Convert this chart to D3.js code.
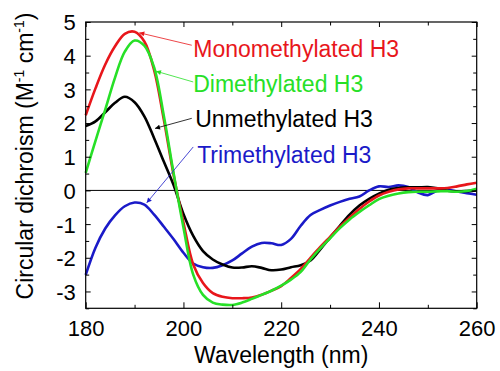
<!DOCTYPE html>
<html><head><meta charset="utf-8">
<script src="https://cdn.jsdelivr.net/npm/d3@7"></script>
<style>
html,body{margin:0;padding:0;background:#fff;}
svg{display:block;font-family:"Liberation Sans",Arial,sans-serif;}
</style></head>
<body><svg id="c" width="500" height="371"></svg>
<script>
const wavelength = [180,182,184,186,188,190,192,194,196,198,200,202,204,206,208,210,212,214,216,218,220,222,224,226,228,230,232,234,236,238,240,242,244,246,248,250,252,254,256,258,260];
const monomethylated = [2.23,3.03,3.74,4.28,4.65,4.71,4.42,3.57,2.09,0.45,-0.95,-2.2,-2.75,-3.05,-3.16,-3.2,-3.2,-3.18,-3.1,-2.98,-2.84,-2.6,-2.33,-2.0,-1.68,-1.38,-1.08,-0.8,-0.55,-0.33,-0.15,-0.04,0.03,0.06,0.06,0.06,0.06,0.07,0.12,0.18,0.23];
const dimethylated = [0.52,1.47,2.4,3.35,4.12,4.45,4.3,3.65,2.2,0.5,-1.1,-2.5,-3.1,-3.33,-3.39,-3.4,-3.33,-3.22,-3.1,-2.98,-2.83,-2.65,-2.42,-2.05,-1.72,-1.42,-1.12,-0.86,-0.64,-0.44,-0.26,-0.16,-0.09,-0.05,-0.04,-0.04,-0.03,-0.02,-0.04,-0.02,0.05];
const unmethylated = [1.91,2.05,2.32,2.6,2.78,2.62,2.2,1.55,0.85,0.15,-0.7,-1.35,-1.8,-2.05,-2.2,-2.29,-2.29,-2.25,-2.3,-2.37,-2.35,-2.28,-2.22,-2.08,-1.75,-1.4,-1.05,-0.72,-0.45,-0.25,-0.1,0.02,0.07,0.09,0.09,0.1,0.06,-0.01,-0.03,-0.02,0.0];
const trimethylated = [-2.51,-1.7,-1.13,-0.74,-0.47,-0.36,-0.42,-0.72,-1.08,-1.45,-1.85,-2.17,-2.28,-2.3,-2.22,-2.08,-1.87,-1.67,-1.56,-1.57,-1.62,-1.44,-1.05,-0.73,-0.58,-0.45,-0.34,-0.25,-0.18,0.0,0.12,0.1,0.15,0.1,-0.06,-0.14,0.0,0.02,-0.03,-0.08,-0.13];
const seriesNames = ["Monomethylated H3","Dimethylated H3","Unmethylated H3","Trimethylated H3"];
const seriesValues = [monomethylated, dimethylated, unmethylated, trimethylated];
const seriesColors = ["#e8161b","#27e027","#000000","#1a1ac8"];
const xTicks = [180,200,220,240,260];
const yTicks = [-3,-2,-1,0,1,2,3,4,5];
// annotation: label anchor (wavelength, value) and arrow start/tip in data units
const labelPos = [[202.0,3.95],[202.0,2.92],[202.4,1.88],[202.8,0.81]];
const arrowFrom = [[201.7,4.31],[202.0,3.22],[201.7,2.14],[202.0,1.29]];
const arrowTip = [[190.97,4.68],[194.38,3.54],[194.18,1.84],[192.48,-0.37]];

const svg = d3.select("#c");
const x = d3.scaleLinear().domain([180,260]).range([85.7,476.7]);
const y = d3.scaleLinear().domain([-3.5,5]).range([308.3,22]);
const L=x.range()[0], R=x.range()[1], T=y.range()[1], B=y.range()[0];

// zero line
svg.append("line").attr("x1",L).attr("x2",R).attr("y1",y(0)).attr("y2",y(0)).attr("stroke","#000").attr("stroke-width",1);

// curves
const line = d3.line().x((d,i)=>x(wavelength[i])).y(d=>y(d)).curve(d3.curveCatmullRom.alpha(0.5));
const drawOrder=[3,2,0,1];
drawOrder.forEach(k=>{
  svg.append("path").attr("d",line(seriesValues[k])).attr("fill","none")
    .attr("stroke",seriesColors[k]).attr("stroke-width",2.6).attr("stroke-linejoin","round");
});

// axes (ticks inward)
const fs = 22;
const gBottom = svg.append("g").attr("transform",`translate(0,${B})`)
  .call(d3.axisBottom(x).tickValues(d3.range(180,261,10)).tickSize(-6).tickFormat(d=>xTicks.includes(d)?d:"").tickPadding(12));
const gTop = svg.append("g").attr("transform",`translate(0,${T})`)
  .call(d3.axisTop(x).tickValues(d3.range(180,261,10)).tickSize(-5).tickFormat(""));
const gLeft = svg.append("g").attr("transform",`translate(${L},0)`)
  .call(d3.axisLeft(y).tickValues(d3.range(-3.5,5.01,0.5)).tickSize(-5).tickFormat(d=>yTicks.includes(d)?String(d):"").tickPadding(10));
const gRight = svg.append("g").attr("transform",`translate(${R},0)`)
  .call(d3.axisRight(y).tickValues(d3.range(-3.5,5.01,0.5)).tickSize(-5).tickFormat(""));
[gBottom,gTop,gLeft,gRight].forEach(g=>{
  g.select(".domain").remove();
  g.selectAll("line").attr("stroke","#000").attr("stroke-width",1);
  g.selectAll("text").attr("font-size",fs).attr("font-family","Liberation Sans, Arial, sans-serif").attr("fill","#000");
});
// minor ticks shorter
gBottom.selectAll(".tick").filter(d=>!xTicks.includes(d)).select("line").attr("y2",-3.5);
gTop.selectAll(".tick").filter(d=>!xTicks.includes(d)).select("line").attr("y2",3.5);
gLeft.selectAll(".tick").filter(d=>!yTicks.includes(d)).select("line").attr("x2",3.5);
gRight.selectAll(".tick").filter(d=>!yTicks.includes(d)).select("line").attr("x2",-3.5);
gLeft.selectAll("text").attr("dy","0.36em");
gBottom.selectAll("text").attr("dy","0.71em");

// frame
svg.append("rect").attr("x",L).attr("y",T).attr("width",R-L).attr("height",B-T)
  .attr("fill","none").attr("stroke","#000").attr("stroke-width",1.2);

// axis titles
svg.append("text").attr("x",(L+R)/2).attr("y",363).attr("text-anchor","middle")
  .attr("font-size",23).text("Wavelength (nm)");
const yl = svg.append("text").attr("transform","translate(33,156) rotate(-90)").attr("text-anchor","middle").attr("font-size",23);
yl.append("tspan").text("Circular dichroism (M");
yl.append("tspan").attr("font-size",14).attr("dy",-9).text("-1");
yl.append("tspan").attr("dy",9).text(" cm");
yl.append("tspan").attr("font-size",14).attr("dy",-9).text("-1");
yl.append("tspan").attr("dy",9).text(")");

// annotations
const defs = svg.append("defs");
seriesColors.forEach((c,k)=>{
  defs.append("marker").attr("id","ah"+k).attr("viewBox","0 0 10 10").attr("refX",10).attr("refY",5)
    .attr("markerWidth",7).attr("markerHeight",5).attr("markerUnits","userSpaceOnUse").attr("orient","auto")
    .append("path").attr("d","M0,0L10,5L0,10Z").attr("fill",c);
});
seriesNames.forEach((n,k)=>{
  svg.append("line").attr("x1",x(arrowFrom[k][0])).attr("y1",y(arrowFrom[k][1]))
    .attr("x2",x(arrowTip[k][0])).attr("y2",y(arrowTip[k][1]))
    .attr("stroke",seriesColors[k]).attr("stroke-width",0.8).attr("marker-end",`url(#ah${k})`);
  svg.append("text").attr("x",x(labelPos[k][0])).attr("y",y(labelPos[k][1]))
    .attr("font-size",23).attr("fill",seriesColors[k]).text(n);
});
</script></body></html>
